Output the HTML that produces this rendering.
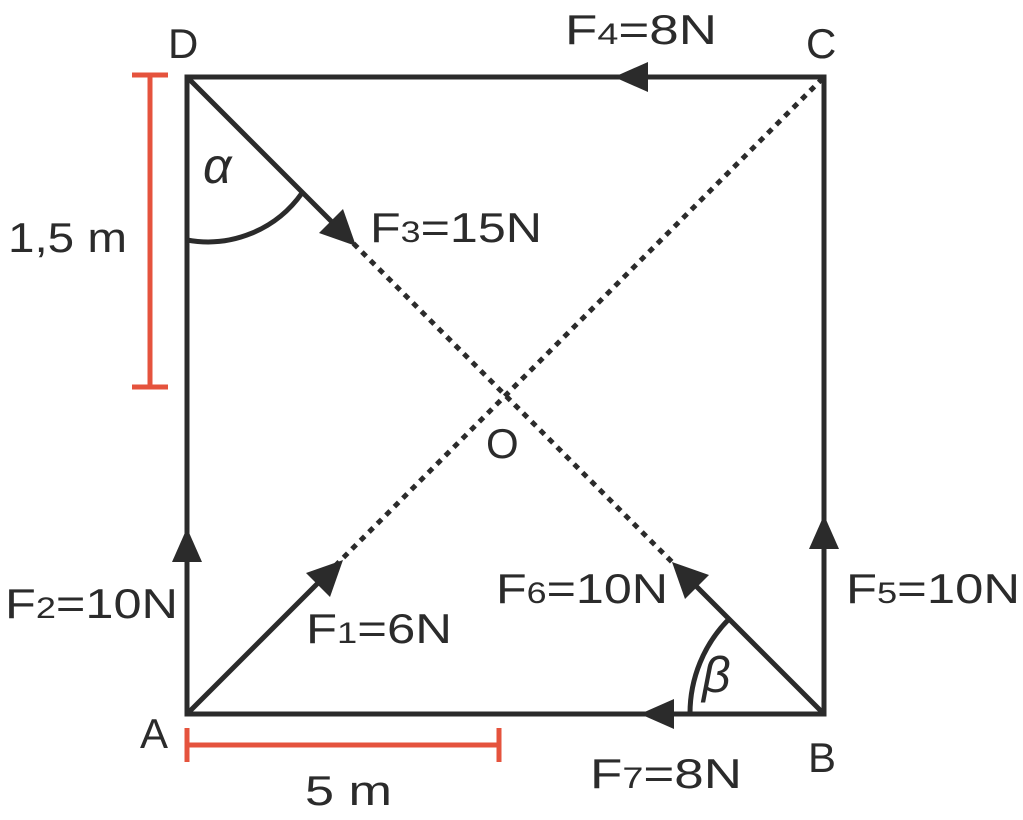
<!DOCTYPE html>
<html><head><meta charset="utf-8"><style>
html,body{margin:0;padding:0;background:#fff;}
svg{display:block}
text{font-family:"Liberation Sans",sans-serif;fill:#2b2b2b;}
</style></head><body>
<svg width="1023" height="820" viewBox="0 0 1023 820" xmlns="http://www.w3.org/2000/svg">
<g stroke="#2b2b2b" stroke-width="5" fill="none">
<rect x="187" y="77" width="637" height="637"/>
<line x1="187" y1="714" x2="335" y2="566"/>
<line x1="335" y1="566" x2="824" y2="77" stroke-dasharray="6,6"/>
<line x1="187" y1="77" x2="345" y2="235"/>
<line x1="345" y1="235" x2="680" y2="570" stroke-dasharray="6,6"/>
<line x1="824" y1="714" x2="690" y2="580"/>
<path d="M187 240 A115 115 0 0 0 302 193"/>
<path d="M690 714 A134 134 0 0 1 729 619"/>
</g>
<g fill="#2b2b2b">
<polygon points="614,77 648,62 648,92"/>
<polygon points="640,714 674,699 674,729"/>
<polygon points="187,528 172,562 202,562"/>
<polygon points="824,515 809,549 839,549"/>
<polygon points="343,560 306,573 330,597"/>
<polygon points="356,246 319,233 343,209"/>
<polygon points="672,562 685,599 709,575"/>
</g>
<g stroke="#e5533d" stroke-width="5">
<line x1="150" y1="75" x2="150" y2="387"/>
<line x1="132" y1="75" x2="168" y2="75"/>
<line x1="132" y1="387" x2="168" y2="387"/>
<line x1="187" y1="745" x2="499" y2="745"/>
<line x1="187" y1="728" x2="187" y2="762"/>
<line x1="499" y1="728" x2="499" y2="762"/>
</g>
<g font-size="42" lengthAdjust="spacingAndGlyphs">
<text x="168" y="58" textLength="34">D</text>
<text x="806" y="58" textLength="36">C</text>
<text x="140" y="748" textLength="36">A</text>
<text x="808" y="772" textLength="36">B</text>
<text x="486" y="458" textLength="38">O</text>
<text x="8" y="252" textLength="119" lengthAdjust="spacingAndGlyphs">1,5 m</text>
<text x="305" y="805" textLength="87" lengthAdjust="spacingAndGlyphs">5 m</text>
<text x="565" y="44" textLength="152" lengthAdjust="spacingAndGlyphs">F<tspan font-size="30">4</tspan>=8N</text>
<text x="370" y="242" textLength="172" lengthAdjust="spacingAndGlyphs">F<tspan font-size="30">3</tspan>=15N</text>
<text x="5" y="618" textLength="173" lengthAdjust="spacingAndGlyphs">F<tspan font-size="30">2</tspan>=10N</text>
<text x="306" y="643" textLength="146" lengthAdjust="spacingAndGlyphs">F<tspan font-size="30">1</tspan>=6N</text>
<text x="496" y="603" textLength="172" lengthAdjust="spacingAndGlyphs">F<tspan font-size="30">6</tspan>=10N</text>
<text x="846" y="603" textLength="174" lengthAdjust="spacingAndGlyphs">F<tspan font-size="30">5</tspan>=10N</text>
<text x="590" y="788" textLength="152" lengthAdjust="spacingAndGlyphs">F<tspan font-size="30">7</tspan>=8N</text>
<text x="203" y="183" font-family="Liberation Serif,serif" font-style="italic" font-size="50">α</text>
<text x="702" y="692" font-family="Liberation Serif,serif" font-style="italic" font-size="50">β</text>
</g>
</svg>
</body></html>
